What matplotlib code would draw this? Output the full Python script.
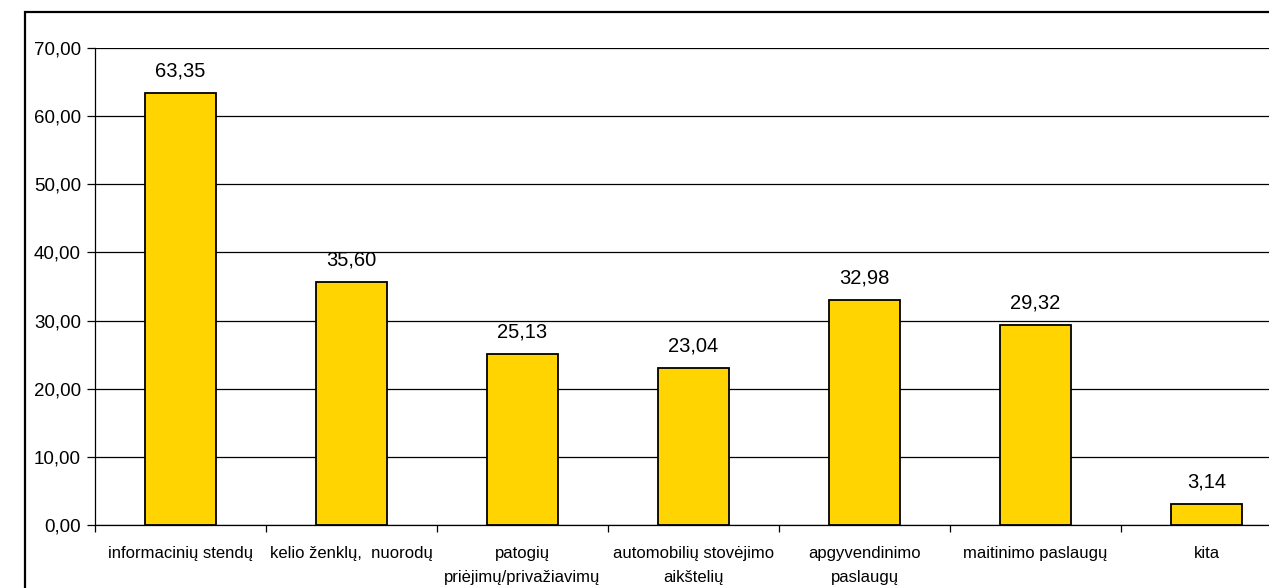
import matplotlib
matplotlib.use("Agg")
import matplotlib.pyplot as plt
from matplotlib.patches import Rectangle
from matplotlib.ticker import FixedLocator, FuncFormatter

categories = ["informacinių stendų", "kelio ženklų,  nuorodų", "patogių\npriėjimų/privažiavimų",
              "automobilių stovėjimo\naikštelių", "apgyvendinimo\npaslaugų",
              "maitinimo paslaugų", "kita"]
values = [63.35, 35.60, 25.13, 23.04, 32.98, 29.32, 3.14]
yticks = [0, 10, 20, 30, 40, 50, 60, 70]

plt.rcParams['font.family'] = ['Liberation Sans', 'DejaVu Sans']

W, H = 1269, 588
fig = plt.figure(figsize=(W / 100, H / 100), dpi=100)
ax = fig.add_axes([95 / W, 63 / H, 1197 / W, 477 / H])

x = list(range(len(categories)))
ax.bar(x, values, width=0.41, color='#FFD400', edgecolor='black', linewidth=1.3, zorder=3)

ax.set_xlim(-0.5, len(categories) - 0.5)
ax.set_ylim(0, 70)
ax.set_yticks(yticks)
ax.yaxis.set_major_formatter(FuncFormatter(lambda v, p: f"{v:.2f}".replace('.', ',')))
ax.grid(axis='y', color='black', linewidth=0.9, zorder=0)

ax.set_xticks(x)
ax.set_xticklabels(categories, fontsize=12, linespacing=1.75, va='top')
ax.tick_params(axis='x', which='major', length=0, pad=15)
ax.xaxis.set_minor_locator(FixedLocator([i - 0.5 for i in range(len(categories) + 1)]))
ax.tick_params(axis='x', which='minor', length=5, width=0.9, color='black')
ax.tick_params(axis='y', labelsize=13.5, length=6, width=0.9, pad=4)

for s in ['top', 'right']:
    ax.spines[s].set_visible(False)
for s in ['left', 'bottom']:
    ax.spines[s].set_linewidth(0.9)
    ax.spines[s].set_color('black')

for xi, v in zip(x, values):
    ax.annotate(f"{v:.2f}".replace('.', ','), (xi, v), xytext=(0, 9),
                textcoords='offset points', ha='center', va='bottom', fontsize=14.5)

border = Rectangle((25 / W, -0.2), 1.2, 1 - 12 / H + 0.2, transform=fig.transFigure,
                   fill=False, edgecolor='black', linewidth=1.6, clip_on=False)
fig.patches.append(border)

fig.savefig("out.png", dpi=100)
